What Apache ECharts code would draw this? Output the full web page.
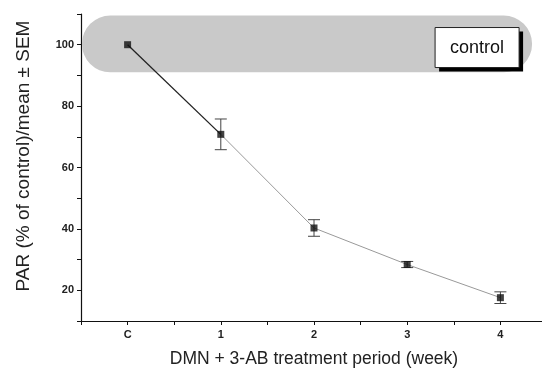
<!DOCTYPE html>
<html>
<head>
<meta charset="utf-8">
<script src="https://cdn.jsdelivr.net/npm/echarts@6/dist/echarts.min.js"></script>
<style>
html,body{margin:0;padding:0;background:#fff;}
#main{width:542px;height:371px;}
</style>
</head>
<body>
<div id="main"></div>
<script>
// 数据
var weeks = ['C', '1', '2', '3', '4'];
var weekPos = [0, 1, 2, 3, 4];
var parMean = [100, 70.8, 40.3, 28.4, 17.6];
var parSem = [0, 5, 2.7, 1.0, 1.9];
var controlBand = [-0.49, 4.34, 91, 109.5]; // x1, x2, y1, y2 (数值)
var controlText = 'control';

var myChart;
window.onresize = function () {
	if (myChart) { myChart.resize(); }
};

function pts(from, to) {
	var out = [];
	for (var i = from; i <= to; i++) out.push([weekPos[i], parMean[i]]);
	return out;
}

var errData = [];
for (var i = 0; i < weekPos.length; i++) {
	if (parSem[i] > 0) errData.push([weekPos[i], parMean[i] - parSem[i], parMean[i] + parSem[i]]);
}

var font = 'Liberation Sans, Arial, sans-serif';

var option = {
	animation: false,
	grid: { left: 81, top: 14, right: -5, bottom: 50, containLabel: false, outerBoundsMode: 'none' },
	xAxis: {
		type: 'value', min: -0.5, max: 4.5, interval: 0.5,
		splitLine: { show: false },
		axisLine: { onZero: false, lineStyle: { color: '#111', width: 1.2 } },
		axisTick: { length: 4, lineStyle: { color: '#111' } },
		axisLabel: {
			color: '#222', fontSize: 11, fontFamily: font, fontWeight: 'bold', margin: 8,
			formatter: function (v) {
				var k = weekPos.indexOf(v);
				return k >= 0 ? weeks[k] : '';
			}
		},
		name: 'DMN + 3-AB treatment period (week)',
		nameLocation: 'middle', nameGap: 29,
		nameTextStyle: { color: '#222', fontSize: 17.5, fontFamily: font }
	},
	yAxis: {
		type: 'value', min: 10, max: 110, interval: 10,
		splitLine: { show: false },
		axisLine: { onZero: false, lineStyle: { color: '#111', width: 1.2 } },
		axisTick: { length: 4, lineStyle: { color: '#111' } },
		axisLabel: {
			color: '#222', fontSize: 11, fontFamily: font, fontWeight: 'bold', margin: 7,
			formatter: function (v) { return (v % 20 === 0 && v > 10 && v < 110) ? v : ''; }
		}
	},
	graphic: [{
		type: 'text', x: 24, y: 156, rotation: Math.PI / 2,
		style: {
			text: 'PAR (% of control)/mean ± SEM', fill: '#222',
			font: '19px ' + font, align: 'center', verticalAlign: 'middle'
		}
	}],
	series: [
		{
			// 灰色 control 带
			type: 'custom', z: 1, silent: true,
			data: [controlBand],
			renderItem: function (params, api) {
				var p1 = api.coord([api.value(0), api.value(3)]);
				var p2 = api.coord([api.value(1), api.value(2)]);
				var h = p2[1] - p1[1];
				var bx = p2[0] - 13 - 84, by = p1[1] + 12;
				return {
					type: 'group',
					children: [
						{ type: 'rect', shape: { x: p1[0], y: p1[1], width: p2[0] - p1[0], height: h, r: h / 2 }, style: { fill: '#c9c9c9' } },
						{ type: 'rect', shape: { x: bx + 4, y: by + 4, width: 84, height: 40 }, style: { fill: '#000' } },
						{ type: 'rect', shape: { x: bx, y: by, width: 84, height: 40 }, style: { fill: '#fff', stroke: '#222', lineWidth: 1 } },
						{ type: 'text', style: { x: bx + 42, y: by + 20, text: controlText, fill: '#111', font: '18px ' + font, align: 'center', verticalAlign: 'middle' } }
					]
				};
			}
		},
		{
			type: 'line', z: 3, data: pts(0, 1), symbol: 'none',
			lineStyle: { color: '#222', width: 1.3 }
		},
		{
			type: 'line', z: 3, data: pts(1, 4), symbol: 'none',
			lineStyle: { color: '#999', width: 1 }
		},
		{
			// 误差线
			type: 'custom', z: 4, data: errData,
			renderItem: function (params, api) {
				var lo = api.coord([api.value(0), api.value(1)]);
				var hi = api.coord([api.value(0), api.value(2)]);
				var w = 6;
				var st = { stroke: '#444', lineWidth: 1 };
				return {
					type: 'group',
					children: [
						{ type: 'line', shape: { x1: lo[0], y1: lo[1], x2: hi[0], y2: hi[1] }, style: st },
						{ type: 'line', shape: { x1: lo[0] - w, y1: lo[1], x2: lo[0] + w, y2: lo[1] }, style: st },
						{ type: 'line', shape: { x1: hi[0] - w, y1: hi[1], x2: hi[0] + w, y2: hi[1] }, style: st }
					]
				};
			}
		},
		{
			type: 'scatter', z: 5, data: pts(0, 4),
			symbol: 'rect', symbolSize: 7,
			itemStyle: { color: '#111' }
		}
	]
};

myChart = echarts.init(document.getElementById('main'));
myChart.setOption(option);
</script>
</body>
</html>
